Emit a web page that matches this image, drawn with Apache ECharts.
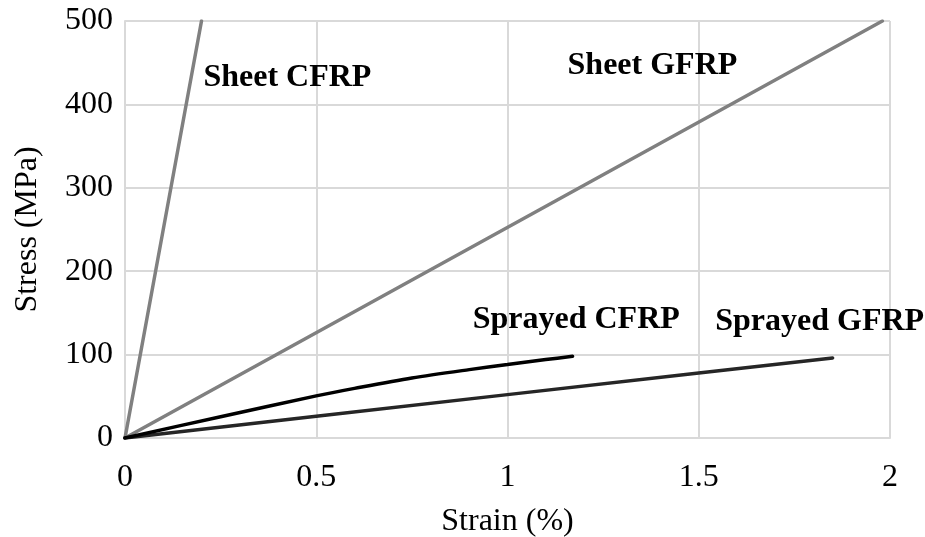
<!DOCTYPE html>
<html>
<head>
<meta charset="utf-8">
<script src="https://cdn.jsdelivr.net/npm/echarts@6/dist/echarts.min.js"></script>
<style>html,body{margin:0;padding:0;background:#fff}#c{width:925px;height:537px}</style>
</head>
<body>
<div id="c"></div>
<script>
// Data (strain %, stress MPa)
var sheetCFRP = [[0, 0], [0.2, 500]];
var sheetGFRP = [[0, 0], [1.98, 500]];
var sprayedCFRP = [[0, 0], [0.25, 25.5], [0.5, 50.5], [0.6, 59.5], [0.75, 72], [0.9, 82], [1.0, 88], [1.1, 94], [1.17, 98]];
var sprayedGFRP = [[0, 0], [0.5, 26], [1.0, 52], [1.5, 78], [1.85, 96]];
var xTicks = [0, 0.5, 1, 1.5, 2];
var yTicks = [0, 100, 200, 300, 400, 500];
var labels = [
  { text: 'Sheet CFRP', at: [0.205, 432] },
  { text: 'Sheet GFRP', at: [1.157, 446] },
  { text: 'Sprayed CFRP', at: [0.909, 142] },
  { text: 'Sprayed GFRP', at: [1.543, 139] }
];

var font = '"Liberation Serif", "Times New Roman", serif';
var chart = echarts.init(document.getElementById('c'));
function lineSeries(name, data, color, smooth) {
  return {
    name: name, type: 'line', data: data, showSymbol: false, smooth: smooth ? 0.3 : false,
    lineStyle: { color: color, width: 3.5, cap: 'round' }, silent: true, animation: false
  };
}
chart.setOption({
  animation: false,
  grid: { left: 125, right: 35, top: 21, bottom: 99, containLabel: false, outerBoundsMode: 'none' },
  xAxis: {
    type: 'value', min: xTicks[0], max: xTicks[xTicks.length - 1], interval: 0.5,
    name: 'Strain (%)', nameLocation: 'middle', nameGap: 68,
    nameTextStyle: { fontFamily: font, fontSize: 32, color: '#000' },
    axisLine: { show: true, lineStyle: { color: '#d9d9d9', width: 2 } },
    axisTick: { show: false },
    axisLabel: { fontFamily: font, fontSize: 32, color: '#000', margin: 24 },
    splitLine: { show: true, lineStyle: { color: '#d9d9d9', width: 2 } }
  },
  yAxis: {
    type: 'value', min: yTicks[0], max: yTicks[yTicks.length - 1], interval: 100,
    name: 'Stress (MPa)', nameLocation: 'middle', nameGap: 81,
    nameTextStyle: { fontFamily: font, fontSize: 32, color: '#000' },
    axisLine: { show: true, lineStyle: { color: '#d9d9d9', width: 2 } },
    axisTick: { show: false },
    axisLabel: { fontFamily: font, fontSize: 32, color: '#000', margin: 12 },
    splitLine: { show: true, lineStyle: { color: '#d9d9d9', width: 2 } }
  },
  series: [
    lineSeries('Sheet CFRP', sheetCFRP, '#808080', false),
    lineSeries('Sheet GFRP', sheetGFRP, '#808080', false),
    lineSeries('Sprayed GFRP', sprayedGFRP, '#262626', false),
    lineSeries('Sprayed CFRP', sprayedCFRP, '#000000', true)
  ]
});
var g = labels.map(function (l) {
  var p = chart.convertToPixel({ gridIndex: 0 }, l.at);
  return {
    type: 'text', x: p[0], y: p[1],
    style: { text: l.text, font: 'bold 32px ' + font, fill: '#000', textAlign: 'left', textVerticalAlign: 'middle' }
  };
});
chart.setOption({ graphic: g });
</script>
</body>
</html>
